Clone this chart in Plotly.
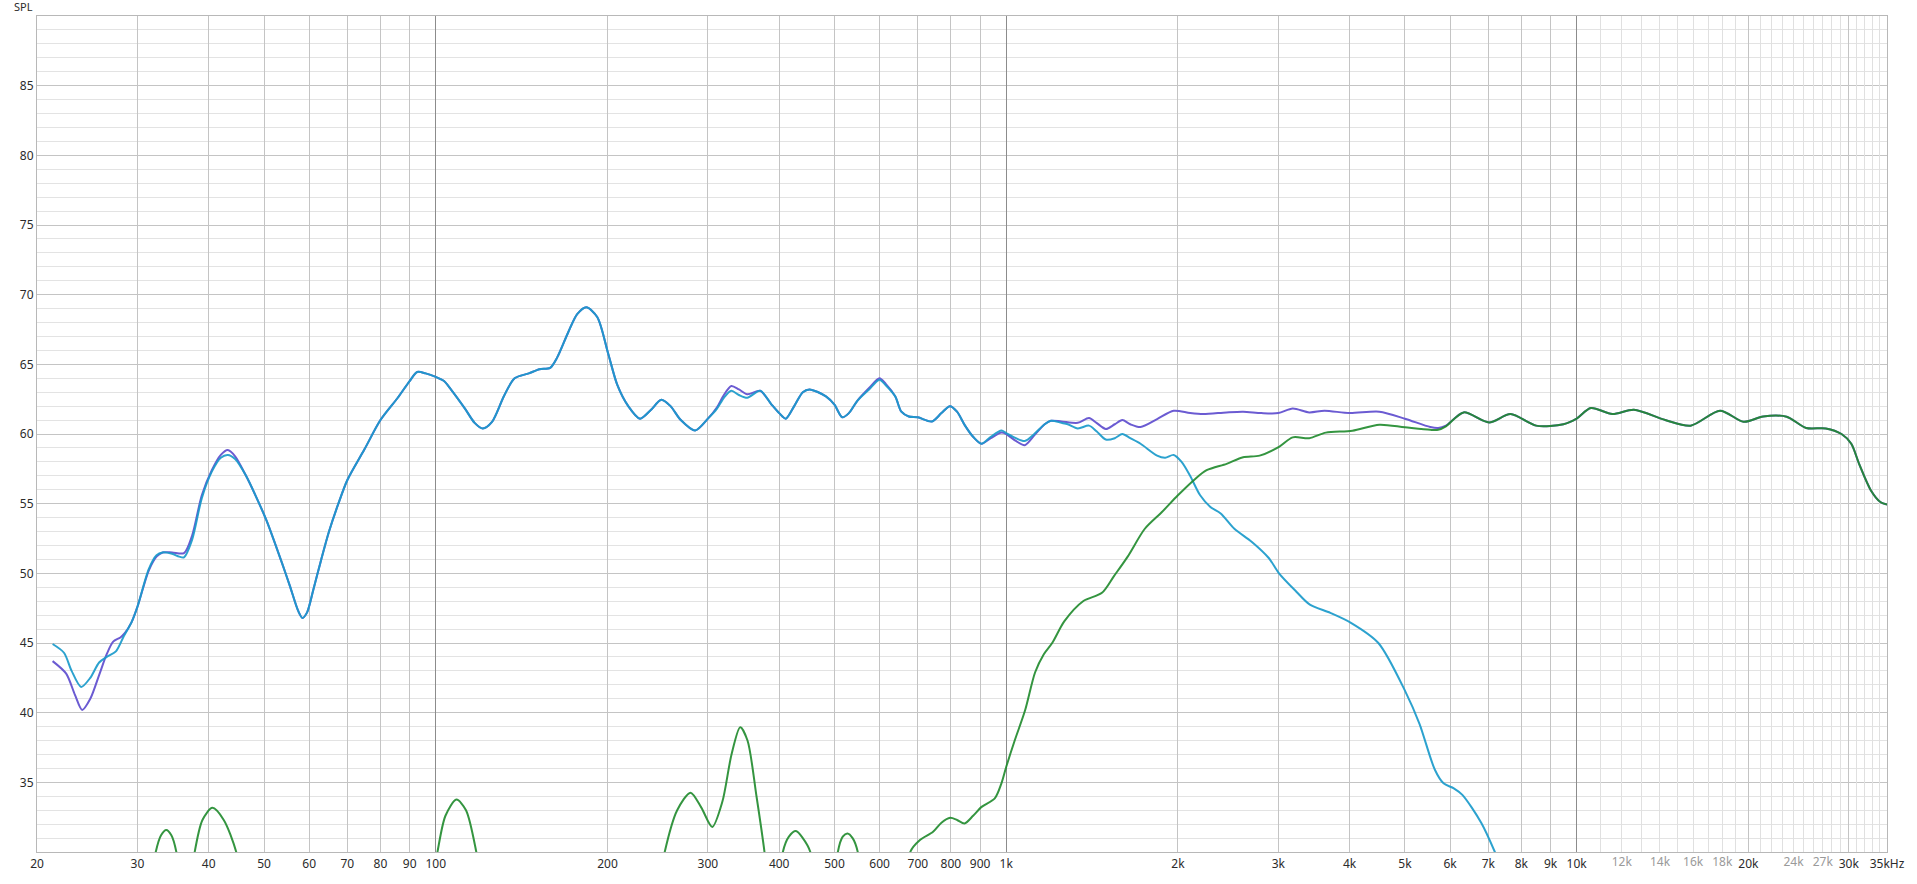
import math
import plotly.graph_objects as go

# ---------------- data ----------------
sum_freq = [21.3, 22.5, 23.3, 24.0, 24.8, 25.7, 26.5, 27.2, 28.0, 28.5, 29.3, 30.0, 31.4, 32.4, 33.2,
            34.5, 36.2, 37.4, 38.9, 40.5, 42.0, 43.2, 44.5, 46.5, 48.3, 50.5, 53.7, 55.5, 57.4, 58.4,
            59.5, 61, 63, 65, 67.5, 70, 75, 80, 85.8, 90, 92.8, 96, 100, 103.4, 106.3, 112.6, 117,
            120.9, 125.4, 131.8, 137.5, 145.6, 152, 158.7, 163.3, 170.5, 177, 183.6, 191.9, 200.5,
            208.2, 217.1, 228.1, 238, 248.6, 258, 268.9, 284.9, 300, 311, 320, 329.7, 340, 351.7,
            370.5, 387.3, 400, 410.8, 425, 440, 452.1, 483.1, 500, 516, 530, 548.7, 575, 599.6, 615,
            639, 655, 675, 700, 741, 770, 797, 820, 847, 875, 905, 940, 981, 1000, 1040, 1078, 1120,
            1168, 1199, 1250, 1335, 1397, 1440, 1495, 1550, 1598, 1650, 1720, 1839, 1966, 2101, 2217,
            2434, 2602, 2800, 3000, 3179, 3398, 3613, 4000, 4510, 5000, 5538, 5718, 5900, 6337, 7022,
            7660, 8489, 9482, 10000, 10590, 11551, 12600, 14300, 15845, 17840, 19620, 21230, 23350,
            25260, 27340, 29130, 30300, 31270, 32800, 34120, 35000]
sum_spl = [43.7, 42.8, 41.3, 40.2, 41.0, 42.7, 44.2, 45.1, 45.4, 45.7, 46.5, 47.6, 50.2, 51.2, 51.5,
           51.5, 51.45, 52.7, 55.6, 57.4, 58.5, 58.85, 58.4, 57.0, 55.6, 53.8, 50.8, 49.1, 47.3, 46.8,
           47.2, 48.8, 51.0, 53.0, 55.0, 56.7, 58.9, 61.0, 62.6, 63.8, 64.45, 64.35, 64.1, 63.8, 63.2,
           61.8, 60.8, 60.4, 60.85, 62.75, 64.0, 64.35, 64.65, 64.75, 65.5, 67.25, 68.6, 69.1, 68.4,
           65.8, 63.5, 62.05, 61.1, 61.7, 62.45, 62.0, 61.0, 60.25, 61.1, 61.9, 62.8, 63.45, 63.2,
           62.85, 63.1, 62.15, 61.5, 61.1, 62.0, 63.0, 63.2, 62.7, 62.1, 61.2, 61.5, 62.4, 63.3, 64.0,
           63.6, 62.7, 61.6, 61.26, 61.2, 60.9, 61.5, 62.0, 61.6, 60.6, 59.8, 59.3, 59.7, 60.1, 60.0,
           59.5, 59.2, 59.9, 60.7, 60.95, 60.9, 60.8, 61.15, 60.8, 60.36, 60.7, 61.0, 60.7, 60.5,
           61.07, 61.67, 61.5, 61.43, 61.55, 61.6, 61.5, 61.5, 61.83, 61.55, 61.67, 61.5, 61.6, 61.1,
           60.5, 60.43, 60.6, 61.55, 60.83, 61.43, 60.6, 60.7, 61.1, 61.86, 61.43, 61.74, 61.0, 60.6,
           61.67, 60.88, 61.26, 61.24, 60.43, 60.4, 60.0, 59.3, 57.86, 55.95, 55.1, 54.93]

woofer_freq = [21.3, 22.3, 23.0, 23.9, 24.8, 25.7, 26.5, 27.5, 28.4, 29.3, 30.0, 31.4, 32.4, 33.2, 34.5,
               35.5, 36.2, 37.4, 38.9, 40.5, 42.0, 43.2, 44.5, 46.5, 48.3, 50.5, 53.7, 55.5, 57.4,
               58.4, 59.5, 61, 63, 65, 67.5, 70, 75, 80, 85.8, 90, 92.8, 96, 100, 103.4, 106.3, 112.6,
               117, 120.9, 125.4, 131.8, 137.5, 145.6, 152, 158.7, 163.3, 170.5, 177, 183.6, 191.9,
               200.5, 208.2, 217.1, 228.1, 238, 248.6, 258, 268.9, 284.9, 300, 311, 320, 329.7, 340,
               351.7, 370.5, 387.3, 400, 410.8, 425, 440, 452.1, 483.1, 500, 516, 530, 548.7, 575,
               599.6, 615, 639, 655, 675, 700, 741, 770, 797, 820, 847, 875, 905, 940, 981, 1000, 1040,
               1078, 1120, 1168, 1199, 1250, 1282, 1335, 1397, 1440, 1495, 1550, 1598, 1650, 1720,
               1839, 1900, 1966, 2030, 2101, 2188, 2280, 2377, 2512, 2693, 2886, 3008, 3223, 3407,
               3701, 4021, 4492, 5017, 5303, 5643, 5843, 6091, 6305, 6803, 7189, 7600]
woofer_spl = [44.93, 44.3, 43.0, 41.85, 42.5, 43.6, 44.0, 44.4, 45.5, 46.5, 47.6, 50.3, 51.3, 51.5, 51.4,
              51.2, 51.15, 52.4, 55.4, 57.3, 58.3, 58.5, 58.2, 57.0, 55.6, 53.8, 50.8, 49.1, 47.3,
              46.8, 47.2, 48.8, 51.0, 53.0, 55.0, 56.7, 58.9, 61.0, 62.6, 63.8, 64.45, 64.35, 64.1,
              63.8, 63.2, 61.8, 60.8, 60.4, 60.85, 62.75, 64.0, 64.35, 64.65, 64.75, 65.5, 67.25,
              68.6, 69.1, 68.4, 65.8, 63.5, 62.05, 61.1, 61.7, 62.45, 62.0, 61.0, 60.25, 61.1, 61.8,
              62.6, 63.1, 62.8, 62.6, 63.1, 62.15, 61.5, 61.1, 62.0, 63.0, 63.2, 62.7, 62.1, 61.2,
              61.5, 62.4, 63.2, 63.9, 63.5, 62.7, 61.6, 61.26, 61.2, 60.9, 61.5, 62.0, 61.6, 60.6,
              59.8, 59.3, 59.8, 60.25, 60.07, 59.7, 59.5, 60.0, 60.7, 60.95, 60.8, 60.7, 60.4, 60.6,
              60.2, 59.6, 59.7, 60.0, 59.7, 59.3, 58.45, 58.3, 58.5, 58.0, 57.0, 55.6, 54.76, 54.3,
              53.2, 52.27, 51.1, 50.0, 48.7, 47.75, 47.16, 46.45, 45.0, 41.46, 39.2, 35.9, 34.93,
              34.57, 34.1, 32.1, 30.0, 27.5]

tweeter_freq = [20, 31.5, 32.3, 33.0, 33.7, 34.4, 35.1, 35.8, 36.8, 37.8, 39.0, 40.6, 42.5, 44.7, 46.0,
                98, 100.7, 104, 108.7, 113, 117.8, 121, 245, 252, 265, 279.7, 292, 305.3, 318, 330,
                341.8, 352, 365, 377, 384, 400, 406, 416, 428, 440, 453.6, 462, 500, 506.9, 517,
                526.9, 538, 549.3, 557, 670, 678.9, 706, 744.5, 770, 797.7, 820, 845.3, 875, 905.6,
                955, 981, 1000, 1035, 1079, 1124, 1164, 1204, 1265, 1364, 1472, 1545, 1633, 1750,
                1875, 2000, 2130, 2246, 2434, 2602, 2782, 3013, 3179, 3398, 3634, 4045, 4510, 5000,
                5538, 5718, 5900, 6337, 7022, 7660, 8489, 9482, 10000, 10590, 11551, 12600, 14300,
                15845, 17840, 19620, 21230, 23350, 25260, 27340, 29130, 30300, 31270, 32800, 34120,
                35000]
tweeter_spl = [22, 27, 30, 31.2, 31.57, 31.2, 30, 27, 26, 30, 32.3, 33.17, 32.3, 30, 27,
               27, 30, 32.6, 33.76, 33.0, 30, 27, 27, 30, 33.0, 34.26, 33.2, 31.8, 33.6, 37.0,
               38.95, 38.0, 34.0, 30, 27, 27, 30, 31.1, 31.5, 31.0, 30, 27, 27, 30, 31.1,
               31.33, 31.0, 30, 27, 27, 30, 30.86, 31.45, 32.1, 32.45, 32.3, 32.05, 32.6, 33.24,
               33.85, 34.93, 36.1, 38.0, 40.15, 42.9, 44.2, 45.0, 46.57, 48.0, 48.6, 49.8, 51.2, 53.2,
               54.4, 55.6, 56.67, 57.4, 57.86, 58.33, 58.45, 59.1, 59.76, 59.7, 60.1, 60.24, 60.67,
               60.48, 60.3, 60.3, 60.55, 61.55, 60.83, 61.43, 60.6, 60.7, 61.1, 61.86, 61.43, 61.74,
               61.0, 60.6, 61.67, 60.88, 61.26, 61.24, 60.43, 60.4, 60.0, 59.3, 57.86, 55.95, 55.1,
               54.93]

# axis ticks
x_major_vals = [20, 30, 40, 50, 60, 70, 80, 90, 100, 200, 300, 400, 500, 600, 700, 800, 900,
                1000, 2000, 3000, 4000, 5000, 6000, 7000, 8000, 9000, 10000, 20000, 30000, 35000]
x_major_text = ["20", "30", "40", "50", "60", "70", "80", "90", "100", "200", "300", "400", "500",
                "600", "700", "800", "900", "1k", "2k", "3k", "4k", "5k", "6k", "7k", "8k", "9k",
                "10k", "20k", "30k", "35kHz"]
x_decade_vals = [100, 1000, 10000]
x_fine_vals = [11000, 12000, 13000, 14000, 15000, 16000, 17000, 18000, 19000, 21000, 22000,
               23000, 24000, 25000, 26000, 27000, 28000, 29000, 31000, 32000, 33000, 34000]
x_fine_text = ["", "12k", "", "14k", "", "16k", "", "18k", "", "", "", "", "24k", "", "", "27k",
               "", "", "", "", "", ""]
y_tick_vals = [35, 40, 45, 50, 55, 60, 65, 70, 75, 80, 85]

# ---------------- figure ----------------
FONT = "Noto Sans"
FS = 12
xr = [math.log10(20), math.log10(35000)]

fig = go.Figure()
fig.add_trace(go.Scatter(x=sum_freq, y=sum_spl, mode="lines", name="Sum",
                         line=dict(color="#6b5bd2", width=2, shape="spline", smoothing=0.8),
                         hoverinfo="skip"))
fig.add_trace(go.Scatter(x=woofer_freq, y=woofer_spl, mode="lines", name="Woofer",
                         line=dict(color="#1b9bcb", width=2, shape="spline", smoothing=0.8),
                         opacity=0.92, hoverinfo="skip"))
fig.add_trace(go.Scatter(x=tweeter_freq, y=tweeter_spl, mode="lines", name="Tweeter",
                         line=dict(color="#1f8a2c", width=2, shape="spline", smoothing=0.8),
                         opacity=0.9, hoverinfo="skip"))
# invisible helpers so the overlay grid axes get drawn
for ax in ("x2", "x3"):
    fig.add_trace(go.Scatter(x=sum_freq[:1], y=sum_spl[:1], xaxis=ax, yaxis="y", mode="lines",
                             opacity=0, hoverinfo="skip", showlegend=False))

fig.update_layout(
    width=1917, height=884,
    margin=dict(l=37, r=20, t=16, b=23),
    paper_bgcolor="white", plot_bgcolor="white",
    showlegend=False,
    font=dict(family=FONT, size=FS, color="#2b2b2b"),
    xaxis=dict(type="log", range=xr, tickmode="array", tickvals=x_major_vals,
               ticktext=x_major_text, showgrid=True, gridcolor="#c4c4c4", gridwidth=1,
               showline=True, mirror=True, linecolor="#b8b8b8", linewidth=1,
               zeroline=False, ticks="", ticklabelstandoff=1, ticklabeloverflow="allow",
               tickfont=dict(size=FS, color="#2b2b2b")),
    xaxis2=dict(type="log", range=xr, overlaying="x", anchor="y", side="bottom",
                tickmode="array", tickvals=x_decade_vals, showticklabels=False,
                showgrid=True, gridcolor="#8c8c8c", gridwidth=1, showline=False,
                zeroline=False, ticks=""),
    xaxis3=dict(type="log", range=xr, overlaying="x", anchor="y", side="bottom",
                tickmode="array", tickvals=x_fine_vals, ticktext=x_fine_text,
                showgrid=True, gridcolor="#e0e0e0", gridwidth=1, showline=False,
                zeroline=False, ticks="", ticklabelstandoff=1,
                tickfont=dict(size=FS, color="#9a9a9a")),
    yaxis=dict(range=[30, 90], tickmode="array", tickvals=y_tick_vals,
               showgrid=True, gridcolor="#c4c4c4", gridwidth=1,
               minor=dict(tick0=30, dtick=1, showgrid=True, gridcolor="#e3e3e3", ticks=""),
               showline=True, mirror=True, linecolor="#b8b8b8", linewidth=1,
               zeroline=False, ticks="", tickfont=dict(size=FS, color="#2b2b2b")),
    annotations=[dict(text="SPL", xref="paper", yref="paper", x=0, y=1, xanchor="right",
                      yanchor="bottom", xshift=-2, yshift=0, showarrow=False,
                      font=dict(family=FONT, size=11, color="#2b2b2b"))],
)

fig.write_html("out.html", config={"displayModeBar": False},
               post_script="document.body.style.margin='0';document.body.style.overflow='hidden';")
